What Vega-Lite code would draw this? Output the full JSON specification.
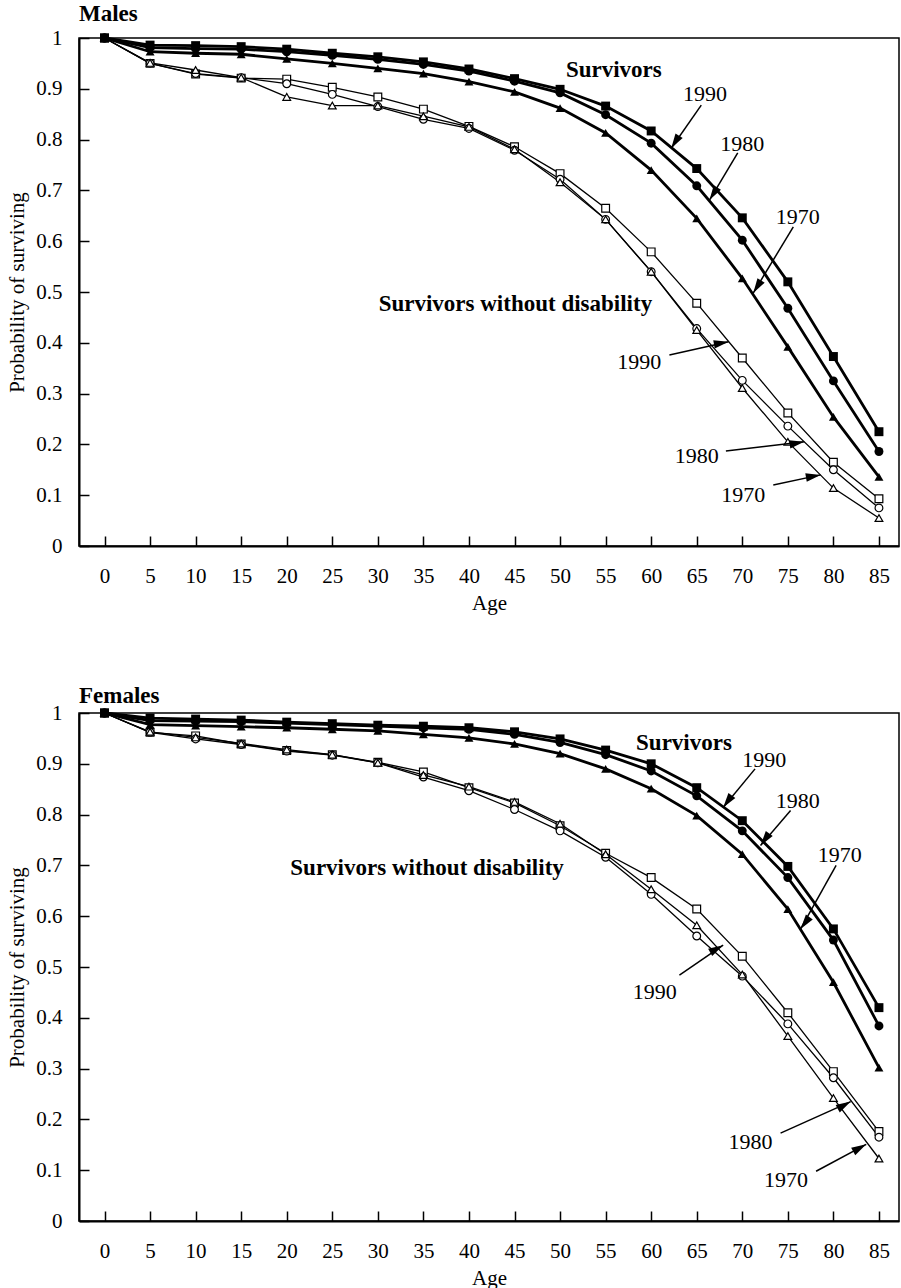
{
  "$schema": "https://vega.github.io/schema/vega-lite/v6.json",
  "padding": {"left": 6, "top": 2, "right": 2, "bottom": 0},
  "background": "white",
  "spacing": 70,
  "config": {
    "font": "Liberation Serif",
    "view": {"stroke": "black", "strokeWidth": 1.5},
    "axis": {"domainColor": "black", "domainWidth": 2, "tickColor": "black", "tickWidth": 1.5, "grid": false, "labelColor": "black", "titleColor": "black", "labelFont": "Liberation Serif", "titleFont": "Liberation Serif", "labelFontSize": 21, "titleFontSize": 21, "titleFontWeight": "normal"},
    "title": {"anchor": "start", "frame": "group", "fontSize": 23, "fontWeight": "bold", "color": "black", "font": "Liberation Serif"}
  },
  "datasets": {
    "curves": [
      {"sex":"Males","kind":"Survivors","year":"1990","age":0,"prob":1},
      {"sex":"Males","kind":"Survivors","year":"1990","age":5,"prob":0.986},
      {"sex":"Males","kind":"Survivors","year":"1990","age":10,"prob":0.985},
      {"sex":"Males","kind":"Survivors","year":"1990","age":15,"prob":0.983},
      {"sex":"Males","kind":"Survivors","year":"1990","age":20,"prob":0.978},
      {"sex":"Males","kind":"Survivors","year":"1990","age":25,"prob":0.970},
      {"sex":"Males","kind":"Survivors","year":"1990","age":30,"prob":0.963},
      {"sex":"Males","kind":"Survivors","year":"1990","age":35,"prob":0.953},
      {"sex":"Males","kind":"Survivors","year":"1990","age":40,"prob":0.939},
      {"sex":"Males","kind":"Survivors","year":"1990","age":45,"prob":0.920},
      {"sex":"Males","kind":"Survivors","year":"1990","age":50,"prob":0.899},
      {"sex":"Males","kind":"Survivors","year":"1990","age":55,"prob":0.866},
      {"sex":"Males","kind":"Survivors","year":"1990","age":60,"prob":0.817},
      {"sex":"Males","kind":"Survivors","year":"1990","age":65,"prob":0.743},
      {"sex":"Males","kind":"Survivors","year":"1990","age":70,"prob":0.646},
      {"sex":"Males","kind":"Survivors","year":"1990","age":75,"prob":0.520},
      {"sex":"Males","kind":"Survivors","year":"1990","age":80,"prob":0.373},
      {"sex":"Males","kind":"Survivors","year":"1990","age":85,"prob":0.225},
      {"sex":"Males","kind":"Survivors","year":"1980","age":0,"prob":1},
      {"sex":"Males","kind":"Survivors","year":"1980","age":5,"prob":0.981},
      {"sex":"Males","kind":"Survivors","year":"1980","age":10,"prob":0.979},
      {"sex":"Males","kind":"Survivors","year":"1980","age":15,"prob":0.978},
      {"sex":"Males","kind":"Survivors","year":"1980","age":20,"prob":0.973},
      {"sex":"Males","kind":"Survivors","year":"1980","age":25,"prob":0.966},
      {"sex":"Males","kind":"Survivors","year":"1980","age":30,"prob":0.958},
      {"sex":"Males","kind":"Survivors","year":"1980","age":35,"prob":0.948},
      {"sex":"Males","kind":"Survivors","year":"1980","age":40,"prob":0.935},
      {"sex":"Males","kind":"Survivors","year":"1980","age":45,"prob":0.915},
      {"sex":"Males","kind":"Survivors","year":"1980","age":50,"prob":0.892},
      {"sex":"Males","kind":"Survivors","year":"1980","age":55,"prob":0.849},
      {"sex":"Males","kind":"Survivors","year":"1980","age":60,"prob":0.793},
      {"sex":"Males","kind":"Survivors","year":"1980","age":65,"prob":0.709},
      {"sex":"Males","kind":"Survivors","year":"1980","age":70,"prob":0.602},
      {"sex":"Males","kind":"Survivors","year":"1980","age":75,"prob":0.468},
      {"sex":"Males","kind":"Survivors","year":"1980","age":80,"prob":0.325},
      {"sex":"Males","kind":"Survivors","year":"1980","age":85,"prob":0.186},
      {"sex":"Males","kind":"Survivors","year":"1970","age":0,"prob":1},
      {"sex":"Males","kind":"Survivors","year":"1970","age":5,"prob":0.973},
      {"sex":"Males","kind":"Survivors","year":"1970","age":10,"prob":0.970},
      {"sex":"Males","kind":"Survivors","year":"1970","age":15,"prob":0.968},
      {"sex":"Males","kind":"Survivors","year":"1970","age":20,"prob":0.959},
      {"sex":"Males","kind":"Survivors","year":"1970","age":25,"prob":0.950},
      {"sex":"Males","kind":"Survivors","year":"1970","age":30,"prob":0.940},
      {"sex":"Males","kind":"Survivors","year":"1970","age":35,"prob":0.930},
      {"sex":"Males","kind":"Survivors","year":"1970","age":40,"prob":0.914},
      {"sex":"Males","kind":"Survivors","year":"1970","age":45,"prob":0.894},
      {"sex":"Males","kind":"Survivors","year":"1970","age":50,"prob":0.862},
      {"sex":"Males","kind":"Survivors","year":"1970","age":55,"prob":0.813},
      {"sex":"Males","kind":"Survivors","year":"1970","age":60,"prob":0.740},
      {"sex":"Males","kind":"Survivors","year":"1970","age":65,"prob":0.645},
      {"sex":"Males","kind":"Survivors","year":"1970","age":70,"prob":0.527},
      {"sex":"Males","kind":"Survivors","year":"1970","age":75,"prob":0.392},
      {"sex":"Males","kind":"Survivors","year":"1970","age":80,"prob":0.254},
      {"sex":"Males","kind":"Survivors","year":"1970","age":85,"prob":0.136},
      {"sex":"Males","kind":"Without disability","year":"1990","age":0,"prob":1},
      {"sex":"Males","kind":"Without disability","year":"1990","age":5,"prob":0.950},
      {"sex":"Males","kind":"Without disability","year":"1990","age":10,"prob":0.929},
      {"sex":"Males","kind":"Without disability","year":"1990","age":15,"prob":0.921},
      {"sex":"Males","kind":"Without disability","year":"1990","age":20,"prob":0.919},
      {"sex":"Males","kind":"Without disability","year":"1990","age":25,"prob":0.903},
      {"sex":"Males","kind":"Without disability","year":"1990","age":30,"prob":0.884},
      {"sex":"Males","kind":"Without disability","year":"1990","age":35,"prob":0.860},
      {"sex":"Males","kind":"Without disability","year":"1990","age":40,"prob":0.826},
      {"sex":"Males","kind":"Without disability","year":"1990","age":45,"prob":0.786},
      {"sex":"Males","kind":"Without disability","year":"1990","age":50,"prob":0.733},
      {"sex":"Males","kind":"Without disability","year":"1990","age":55,"prob":0.665},
      {"sex":"Males","kind":"Without disability","year":"1990","age":60,"prob":0.579},
      {"sex":"Males","kind":"Without disability","year":"1990","age":65,"prob":0.478},
      {"sex":"Males","kind":"Without disability","year":"1990","age":70,"prob":0.370},
      {"sex":"Males","kind":"Without disability","year":"1990","age":75,"prob":0.262},
      {"sex":"Males","kind":"Without disability","year":"1990","age":80,"prob":0.165},
      {"sex":"Males","kind":"Without disability","year":"1990","age":85,"prob":0.093},
      {"sex":"Males","kind":"Without disability","year":"1980","age":0,"prob":1},
      {"sex":"Males","kind":"Without disability","year":"1980","age":5,"prob":0.950},
      {"sex":"Males","kind":"Without disability","year":"1980","age":10,"prob":0.930},
      {"sex":"Males","kind":"Without disability","year":"1980","age":15,"prob":0.922},
      {"sex":"Males","kind":"Without disability","year":"1980","age":20,"prob":0.910},
      {"sex":"Males","kind":"Without disability","year":"1980","age":25,"prob":0.889},
      {"sex":"Males","kind":"Without disability","year":"1980","age":30,"prob":0.865},
      {"sex":"Males","kind":"Without disability","year":"1980","age":35,"prob":0.840},
      {"sex":"Males","kind":"Without disability","year":"1980","age":40,"prob":0.822},
      {"sex":"Males","kind":"Without disability","year":"1980","age":45,"prob":0.779},
      {"sex":"Males","kind":"Without disability","year":"1980","age":50,"prob":0.722},
      {"sex":"Males","kind":"Without disability","year":"1980","age":55,"prob":0.643},
      {"sex":"Males","kind":"Without disability","year":"1980","age":60,"prob":0.540},
      {"sex":"Males","kind":"Without disability","year":"1980","age":65,"prob":0.428},
      {"sex":"Males","kind":"Without disability","year":"1980","age":70,"prob":0.326},
      {"sex":"Males","kind":"Without disability","year":"1980","age":75,"prob":0.236},
      {"sex":"Males","kind":"Without disability","year":"1980","age":80,"prob":0.150},
      {"sex":"Males","kind":"Without disability","year":"1980","age":85,"prob":0.075},
      {"sex":"Males","kind":"Without disability","year":"1970","age":0,"prob":1},
      {"sex":"Males","kind":"Without disability","year":"1970","age":5,"prob":0.951},
      {"sex":"Males","kind":"Without disability","year":"1970","age":10,"prob":0.937},
      {"sex":"Males","kind":"Without disability","year":"1970","age":15,"prob":0.922},
      {"sex":"Males","kind":"Without disability","year":"1970","age":20,"prob":0.884},
      {"sex":"Males","kind":"Without disability","year":"1970","age":25,"prob":0.867},
      {"sex":"Males","kind":"Without disability","year":"1970","age":30,"prob":0.867},
      {"sex":"Males","kind":"Without disability","year":"1970","age":35,"prob":0.846},
      {"sex":"Males","kind":"Without disability","year":"1970","age":40,"prob":0.825},
      {"sex":"Males","kind":"Without disability","year":"1970","age":45,"prob":0.781},
      {"sex":"Males","kind":"Without disability","year":"1970","age":50,"prob":0.716},
      {"sex":"Males","kind":"Without disability","year":"1970","age":55,"prob":0.643},
      {"sex":"Males","kind":"Without disability","year":"1970","age":60,"prob":0.540},
      {"sex":"Males","kind":"Without disability","year":"1970","age":65,"prob":0.425},
      {"sex":"Males","kind":"Without disability","year":"1970","age":70,"prob":0.311},
      {"sex":"Males","kind":"Without disability","year":"1970","age":75,"prob":0.205},
      {"sex":"Males","kind":"Without disability","year":"1970","age":80,"prob":0.114},
      {"sex":"Males","kind":"Without disability","year":"1970","age":85,"prob":0.055},
      {"sex":"Females","kind":"Survivors","year":"1990","age":0,"prob":1},
      {"sex":"Females","kind":"Survivors","year":"1990","age":5,"prob":0.990},
      {"sex":"Females","kind":"Survivors","year":"1990","age":10,"prob":0.988},
      {"sex":"Females","kind":"Survivors","year":"1990","age":15,"prob":0.986},
      {"sex":"Females","kind":"Survivors","year":"1990","age":20,"prob":0.982},
      {"sex":"Females","kind":"Survivors","year":"1990","age":25,"prob":0.979},
      {"sex":"Females","kind":"Survivors","year":"1990","age":30,"prob":0.976},
      {"sex":"Females","kind":"Survivors","year":"1990","age":35,"prob":0.974},
      {"sex":"Females","kind":"Survivors","year":"1990","age":40,"prob":0.971},
      {"sex":"Females","kind":"Survivors","year":"1990","age":45,"prob":0.963},
      {"sex":"Females","kind":"Survivors","year":"1990","age":50,"prob":0.949},
      {"sex":"Females","kind":"Survivors","year":"1990","age":55,"prob":0.927},
      {"sex":"Females","kind":"Survivors","year":"1990","age":60,"prob":0.900},
      {"sex":"Females","kind":"Survivors","year":"1990","age":65,"prob":0.853},
      {"sex":"Females","kind":"Survivors","year":"1990","age":70,"prob":0.788},
      {"sex":"Females","kind":"Survivors","year":"1990","age":75,"prob":0.698},
      {"sex":"Females","kind":"Survivors","year":"1990","age":80,"prob":0.575},
      {"sex":"Females","kind":"Survivors","year":"1990","age":85,"prob":0.420},
      {"sex":"Females","kind":"Survivors","year":"1980","age":0,"prob":1},
      {"sex":"Females","kind":"Survivors","year":"1980","age":5,"prob":0.985},
      {"sex":"Females","kind":"Survivors","year":"1980","age":10,"prob":0.984},
      {"sex":"Females","kind":"Survivors","year":"1980","age":15,"prob":0.983},
      {"sex":"Females","kind":"Survivors","year":"1980","age":20,"prob":0.980},
      {"sex":"Females","kind":"Survivors","year":"1980","age":25,"prob":0.977},
      {"sex":"Females","kind":"Survivors","year":"1980","age":30,"prob":0.974},
      {"sex":"Females","kind":"Survivors","year":"1980","age":35,"prob":0.971},
      {"sex":"Females","kind":"Survivors","year":"1980","age":40,"prob":0.968},
      {"sex":"Females","kind":"Survivors","year":"1980","age":45,"prob":0.958},
      {"sex":"Females","kind":"Survivors","year":"1980","age":50,"prob":0.942},
      {"sex":"Females","kind":"Survivors","year":"1980","age":55,"prob":0.918},
      {"sex":"Females","kind":"Survivors","year":"1980","age":60,"prob":0.886},
      {"sex":"Females","kind":"Survivors","year":"1980","age":65,"prob":0.837},
      {"sex":"Females","kind":"Survivors","year":"1980","age":70,"prob":0.768},
      {"sex":"Females","kind":"Survivors","year":"1980","age":75,"prob":0.676},
      {"sex":"Females","kind":"Survivors","year":"1980","age":80,"prob":0.553},
      {"sex":"Females","kind":"Survivors","year":"1980","age":85,"prob":0.384},
      {"sex":"Females","kind":"Survivors","year":"1970","age":0,"prob":1},
      {"sex":"Females","kind":"Survivors","year":"1970","age":5,"prob":0.977},
      {"sex":"Females","kind":"Survivors","year":"1970","age":10,"prob":0.975},
      {"sex":"Females","kind":"Survivors","year":"1970","age":15,"prob":0.973},
      {"sex":"Females","kind":"Survivors","year":"1970","age":20,"prob":0.971},
      {"sex":"Females","kind":"Survivors","year":"1970","age":25,"prob":0.968},
      {"sex":"Females","kind":"Survivors","year":"1970","age":30,"prob":0.965},
      {"sex":"Females","kind":"Survivors","year":"1970","age":35,"prob":0.958},
      {"sex":"Females","kind":"Survivors","year":"1970","age":40,"prob":0.951},
      {"sex":"Females","kind":"Survivors","year":"1970","age":45,"prob":0.939},
      {"sex":"Females","kind":"Survivors","year":"1970","age":50,"prob":0.920},
      {"sex":"Females","kind":"Survivors","year":"1970","age":55,"prob":0.890},
      {"sex":"Females","kind":"Survivors","year":"1970","age":60,"prob":0.851},
      {"sex":"Females","kind":"Survivors","year":"1970","age":65,"prob":0.798},
      {"sex":"Females","kind":"Survivors","year":"1970","age":70,"prob":0.722},
      {"sex":"Females","kind":"Survivors","year":"1970","age":75,"prob":0.614},
      {"sex":"Females","kind":"Survivors","year":"1970","age":80,"prob":0.470},
      {"sex":"Females","kind":"Survivors","year":"1970","age":85,"prob":0.302},
      {"sex":"Females","kind":"Without disability","year":"1990","age":0,"prob":1},
      {"sex":"Females","kind":"Without disability","year":"1990","age":5,"prob":0.962},
      {"sex":"Females","kind":"Without disability","year":"1990","age":10,"prob":0.955},
      {"sex":"Females","kind":"Without disability","year":"1990","age":15,"prob":0.939},
      {"sex":"Females","kind":"Without disability","year":"1990","age":20,"prob":0.926},
      {"sex":"Females","kind":"Without disability","year":"1990","age":25,"prob":0.918},
      {"sex":"Females","kind":"Without disability","year":"1990","age":30,"prob":0.903},
      {"sex":"Females","kind":"Without disability","year":"1990","age":35,"prob":0.884},
      {"sex":"Females","kind":"Without disability","year":"1990","age":40,"prob":0.853},
      {"sex":"Females","kind":"Without disability","year":"1990","age":45,"prob":0.823},
      {"sex":"Females","kind":"Without disability","year":"1990","age":50,"prob":0.778},
      {"sex":"Females","kind":"Without disability","year":"1990","age":55,"prob":0.724},
      {"sex":"Females","kind":"Without disability","year":"1990","age":60,"prob":0.676},
      {"sex":"Females","kind":"Without disability","year":"1990","age":65,"prob":0.614},
      {"sex":"Females","kind":"Without disability","year":"1990","age":70,"prob":0.521},
      {"sex":"Females","kind":"Without disability","year":"1990","age":75,"prob":0.410},
      {"sex":"Females","kind":"Without disability","year":"1990","age":80,"prob":0.294},
      {"sex":"Females","kind":"Without disability","year":"1990","age":85,"prob":0.176},
      {"sex":"Females","kind":"Without disability","year":"1980","age":0,"prob":1},
      {"sex":"Females","kind":"Without disability","year":"1980","age":5,"prob":0.962},
      {"sex":"Females","kind":"Without disability","year":"1980","age":10,"prob":0.949},
      {"sex":"Females","kind":"Without disability","year":"1980","age":15,"prob":0.938},
      {"sex":"Females","kind":"Without disability","year":"1980","age":20,"prob":0.925},
      {"sex":"Females","kind":"Without disability","year":"1980","age":25,"prob":0.917},
      {"sex":"Females","kind":"Without disability","year":"1980","age":30,"prob":0.902},
      {"sex":"Females","kind":"Without disability","year":"1980","age":35,"prob":0.874},
      {"sex":"Females","kind":"Without disability","year":"1980","age":40,"prob":0.847},
      {"sex":"Females","kind":"Without disability","year":"1980","age":45,"prob":0.810},
      {"sex":"Females","kind":"Without disability","year":"1980","age":50,"prob":0.768},
      {"sex":"Females","kind":"Without disability","year":"1980","age":55,"prob":0.716},
      {"sex":"Females","kind":"Without disability","year":"1980","age":60,"prob":0.643},
      {"sex":"Females","kind":"Without disability","year":"1980","age":65,"prob":0.561},
      {"sex":"Females","kind":"Without disability","year":"1980","age":70,"prob":0.482},
      {"sex":"Females","kind":"Without disability","year":"1980","age":75,"prob":0.388},
      {"sex":"Females","kind":"Without disability","year":"1980","age":80,"prob":0.282},
      {"sex":"Females","kind":"Without disability","year":"1980","age":85,"prob":0.165},
      {"sex":"Females","kind":"Without disability","year":"1970","age":0,"prob":1},
      {"sex":"Females","kind":"Without disability","year":"1970","age":5,"prob":0.963},
      {"sex":"Females","kind":"Without disability","year":"1970","age":10,"prob":0.952},
      {"sex":"Females","kind":"Without disability","year":"1970","age":15,"prob":0.940},
      {"sex":"Females","kind":"Without disability","year":"1970","age":20,"prob":0.928},
      {"sex":"Females","kind":"Without disability","year":"1970","age":25,"prob":0.918},
      {"sex":"Females","kind":"Without disability","year":"1970","age":30,"prob":0.902},
      {"sex":"Females","kind":"Without disability","year":"1970","age":35,"prob":0.878},
      {"sex":"Females","kind":"Without disability","year":"1970","age":40,"prob":0.855},
      {"sex":"Females","kind":"Without disability","year":"1970","age":45,"prob":0.825},
      {"sex":"Females","kind":"Without disability","year":"1970","age":50,"prob":0.782},
      {"sex":"Females","kind":"Without disability","year":"1970","age":55,"prob":0.722},
      {"sex":"Females","kind":"Without disability","year":"1970","age":60,"prob":0.653},
      {"sex":"Females","kind":"Without disability","year":"1970","age":65,"prob":0.582},
      {"sex":"Females","kind":"Without disability","year":"1970","age":70,"prob":0.485},
      {"sex":"Females","kind":"Without disability","year":"1970","age":75,"prob":0.364},
      {"sex":"Females","kind":"Without disability","year":"1970","age":80,"prob":0.242},
      {"sex":"Females","kind":"Without disability","year":"1970","age":85,"prob":0.123}
    ],
    "notes": [
      {"sex":"Males","role":"header","label":"Survivors","age":55.9,"prob":0.937},
      {"sex":"Males","role":"header","label":"Survivors without disability","age":45.1,"prob":0.476},
      {"sex":"Males","role":"year","label":"1990","age":65.9,"prob":0.890},
      {"sex":"Males","role":"year","label":"1980","age":70.0,"prob":0.791},
      {"sex":"Males","role":"year","label":"1970","age":76.1,"prob":0.648},
      {"sex":"Males","role":"year","label":"1990","age":58.7,"prob":0.362},
      {"sex":"Males","role":"year","label":"1980","age":65.0,"prob":0.177},
      {"sex":"Males","role":"year","label":"1970","age":70.1,"prob":0.100},
      {"sex":"Females","role":"header","label":"Survivors","age":63.6,"prob":0.941},
      {"sex":"Females","role":"header","label":"Survivors without disability","age":35.4,"prob":0.694},
      {"sex":"Females","role":"year","label":"1990","age":72.4,"prob":0.908},
      {"sex":"Females","role":"year","label":"1980","age":76.1,"prob":0.827},
      {"sex":"Females","role":"year","label":"1970","age":80.7,"prob":0.720},
      {"sex":"Females","role":"year","label":"1990","age":60.4,"prob":0.451},
      {"sex":"Females","role":"year","label":"1980","age":70.9,"prob":0.155},
      {"sex":"Females","role":"year","label":"1970","age":74.8,"prob":0.080}
    ],
    "arrows": [
      {"sex":"Males","kind":"Survivors","year":"1990","age":65.5,"prob":0.868,"age2":62.2,"prob2":0.783},
      {"sex":"Males","kind":"Survivors","year":"1980","age":69.5,"prob":0.774,"age2":66.4,"prob2":0.681},
      {"sex":"Males","kind":"Survivors","year":"1970","age":75.6,"prob":0.628,"age2":71.2,"prob2":0.498},
      {"sex":"Males","kind":"Without disability","year":"1990","age":62.0,"prob":0.376,"age2":68.5,"prob2":0.402},
      {"sex":"Males","kind":"Without disability","year":"1980","age":68.2,"prob":0.187,"age2":76.8,"prob2":0.205},
      {"sex":"Males","kind":"Without disability","year":"1970","age":73.4,"prob":0.120,"age2":78.6,"prob2":0.140},
      {"sex":"Females","kind":"Survivors","year":"1990","age":71.4,"prob":0.890,"age2":67.9,"prob2":0.814},
      {"sex":"Females","kind":"Survivors","year":"1980","age":75.3,"prob":0.808,"age2":72.0,"prob2":0.739},
      {"sex":"Females","kind":"Survivors","year":"1970","age":80.3,"prob":0.700,"age2":76.4,"prob2":0.575},
      {"sex":"Females","kind":"Without disability","year":"1990","age":63.1,"prob":0.484,"age2":67.9,"prob2":0.543},
      {"sex":"Females","kind":"Without disability","year":"1980","age":74.2,"prob":0.173,"age2":81.9,"prob2":0.235},
      {"sex":"Females","kind":"Without disability","year":"1970","age":78.1,"prob":0.098,"age2":83.6,"prob2":0.151}
    ]
  },
  "vconcat": [
    {
      "width": 820,
      "height": 508,
      "title": {"text": "Males", "offset": 1},
      "encoding": {
        "x": {"field": "age", "type": "quantitative", "scale": {"domain": [-2.8, 87.2], "nice": false, "zero": false}, "axis": {"title": "Age", "values": [0,5,10,15,20,25,30,35,40,45,50,55,60,65,70,75,80,85], "tickSize": -10, "labelPadding": 29, "titlePadding": 6, "labelFlush": false}},
        "y": {"field": "prob", "type": "quantitative", "scale": {"domain": [0, 1], "nice": false}, "axis": {"title": "Probability of surviving", "values": [0,0.1,0.2,0.3,0.4,0.5,0.6,0.7,0.8,0.9,1], "format": "~g", "tickSize": -10, "labelPadding": 27, "titlePadding": 8, "labelFlush": false}}
      },
      "layer": [
        {"data": {"name": "curves"}, "transform": [{"filter": "datum.sex === 'Males' && datum.kind === 'Without disability'"}], "mark": {"type": "line", "color": "black", "strokeWidth": 1.3}, "encoding": {"detail": {"field": "year"}}},
        {"data": {"name": "curves"}, "transform": [{"filter": "datum.sex === 'Males' && datum.kind === 'Without disability'"}], "mark": {"type": "point", "filled": false, "fill": "white", "stroke": "black", "strokeWidth": 1.2, "size": 60, "opacity": 1}, "encoding": {"shape": {"field": "year", "type": "nominal", "scale": {"domain": ["1970","1980","1990"], "range": ["triangle-up","circle","square"]}, "legend": null}}},
        {"data": {"name": "curves"}, "transform": [{"filter": "datum.sex === 'Males' && datum.kind === 'Survivors'"}], "mark": {"type": "line", "color": "black", "strokeWidth": 2.8}, "encoding": {"detail": {"field": "year"}}},
        {"data": {"name": "curves"}, "transform": [{"filter": "datum.sex === 'Males' && datum.kind === 'Survivors'"}], "mark": {"type": "point", "filled": true, "color": "black", "size": 80, "opacity": 1}, "encoding": {"shape": {"field": "year", "type": "nominal", "scale": {"domain": ["1970","1980","1990"], "range": ["triangle-up","circle","square"]}, "legend": null}}},
        {"data": {"name": "notes"}, "transform": [{"filter": "datum.sex === 'Males' && datum.role === 'header'"}], "mark": {"type": "text", "font": "Liberation Serif", "fontSize": 23, "fontWeight": "bold", "color": "black", "align": "center", "baseline": "middle"}, "encoding": {"text": {"field": "label"}}},
        {"data": {"name": "notes"}, "transform": [{"filter": "datum.sex === 'Males' && datum.role === 'year'"}], "mark": {"type": "text", "font": "Liberation Serif", "fontSize": 22, "color": "black", "align": "center", "baseline": "middle"}, "encoding": {"text": {"field": "label"}}},
        {"data": {"name": "arrows"}, "transform": [{"filter": "datum.sex === 'Males'"}], "mark": {"type": "rule", "color": "black", "strokeWidth": 1.5}, "encoding": {"x2": {"field": "age2"}, "y2": {"field": "prob2"}}},
        {"data": {"name": "arrows"}, "transform": [{"filter": "datum.sex === 'Males' && datum.kind === 'Survivors'"}], "mark": {"type": "point", "shape": "M0,0L0.4,1.4L-0.4,1.4Z", "filled": true, "color": "black", "size": 450, "opacity": 1, "angle": 212}, "encoding": {"x": {"field": "age2", "type": "quantitative"}, "y": {"field": "prob2", "type": "quantitative"}}},
        {"data": {"name": "arrows"}, "transform": [{"filter": "datum.sex === 'Males' && datum.kind === 'Without disability'"}], "mark": {"type": "point", "shape": "M0,0L0.4,1.4L-0.4,1.4Z", "filled": true, "color": "black", "size": 450, "opacity": 1, "angle": 80}, "encoding": {"x": {"field": "age2", "type": "quantitative"}, "y": {"field": "prob2", "type": "quantitative"}}}
      ]
    },
    {
      "width": 820,
      "height": 508,
      "title": {"text": "Females", "offset": -6},
      "encoding": {
        "x": {"field": "age", "type": "quantitative", "scale": {"domain": [-2.8, 87.2], "nice": false, "zero": false}, "axis": {"title": "Age", "values": [0,5,10,15,20,25,30,35,40,45,50,55,60,65,70,75,80,85], "tickSize": -10, "labelPadding": 29, "titlePadding": 6, "labelFlush": false}},
        "y": {"field": "prob", "type": "quantitative", "scale": {"domain": [0, 1], "nice": false}, "axis": {"title": "Probability of surviving", "values": [0,0.1,0.2,0.3,0.4,0.5,0.6,0.7,0.8,0.9,1], "format": "~g", "tickSize": -10, "labelPadding": 27, "titlePadding": 8, "labelFlush": false}}
      },
      "layer": [
        {"data": {"name": "curves"}, "transform": [{"filter": "datum.sex === 'Females' && datum.kind === 'Without disability'"}], "mark": {"type": "line", "color": "black", "strokeWidth": 1.3}, "encoding": {"detail": {"field": "year"}}},
        {"data": {"name": "curves"}, "transform": [{"filter": "datum.sex === 'Females' && datum.kind === 'Without disability'"}], "mark": {"type": "point", "filled": false, "fill": "white", "stroke": "black", "strokeWidth": 1.2, "size": 60, "opacity": 1}, "encoding": {"shape": {"field": "year", "type": "nominal", "scale": {"domain": ["1970","1980","1990"], "range": ["triangle-up","circle","square"]}, "legend": null}}},
        {"data": {"name": "curves"}, "transform": [{"filter": "datum.sex === 'Females' && datum.kind === 'Survivors'"}], "mark": {"type": "line", "color": "black", "strokeWidth": 2.8}, "encoding": {"detail": {"field": "year"}}},
        {"data": {"name": "curves"}, "transform": [{"filter": "datum.sex === 'Females' && datum.kind === 'Survivors'"}], "mark": {"type": "point", "filled": true, "color": "black", "size": 80, "opacity": 1}, "encoding": {"shape": {"field": "year", "type": "nominal", "scale": {"domain": ["1970","1980","1990"], "range": ["triangle-up","circle","square"]}, "legend": null}}},
        {"data": {"name": "notes"}, "transform": [{"filter": "datum.sex === 'Females' && datum.role === 'header'"}], "mark": {"type": "text", "font": "Liberation Serif", "fontSize": 23, "fontWeight": "bold", "color": "black", "align": "center", "baseline": "middle"}, "encoding": {"text": {"field": "label"}}},
        {"data": {"name": "notes"}, "transform": [{"filter": "datum.sex === 'Females' && datum.role === 'year'"}], "mark": {"type": "text", "font": "Liberation Serif", "fontSize": 22, "color": "black", "align": "center", "baseline": "middle"}, "encoding": {"text": {"field": "label"}}},
        {"data": {"name": "arrows"}, "transform": [{"filter": "datum.sex === 'Females'"}], "mark": {"type": "rule", "color": "black", "strokeWidth": 1.5}, "encoding": {"x2": {"field": "age2"}, "y2": {"field": "prob2"}}},
        {"data": {"name": "arrows"}, "transform": [{"filter": "datum.sex === 'Females' && datum.kind === 'Survivors'"}], "mark": {"type": "point", "shape": "M0,0L0.4,1.4L-0.4,1.4Z", "filled": true, "color": "black", "size": 450, "opacity": 1, "angle": 216}, "encoding": {"x": {"field": "age2", "type": "quantitative"}, "y": {"field": "prob2", "type": "quantitative"}}},
        {"data": {"name": "arrows"}, "transform": [{"filter": "datum.sex === 'Females' && datum.kind === 'Without disability'"}], "mark": {"type": "point", "shape": "M0,0L0.4,1.4L-0.4,1.4Z", "filled": true, "color": "black", "size": 450, "opacity": 1, "angle": 61}, "encoding": {"x": {"field": "age2", "type": "quantitative"}, "y": {"field": "prob2", "type": "quantitative"}}}
      ]
    }
  ]
}
